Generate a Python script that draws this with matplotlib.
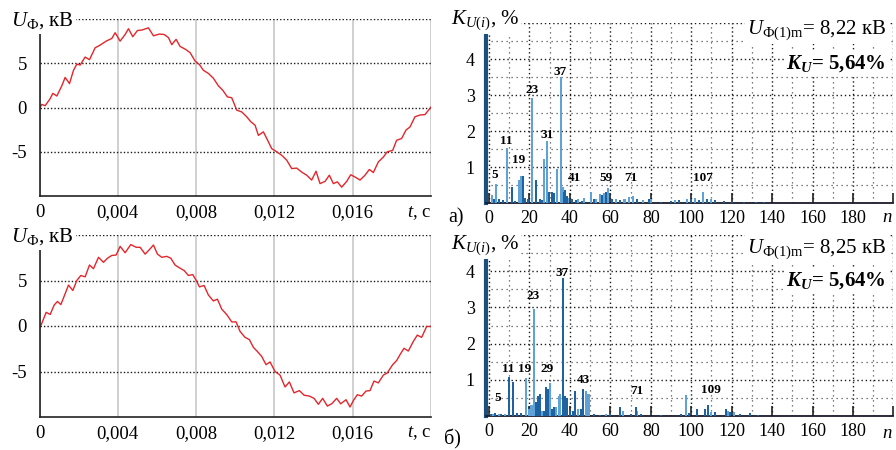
import matplotlib
matplotlib.use("Agg")
import matplotlib.pyplot as plt
import numpy as np

plt.rcParams['font.family'] = ['Liberation Serif', 'DejaVu Serif']
plt.rcParams['mathtext.fontset'] = 'custom'
plt.rcParams['mathtext.rm'] = 'Liberation Serif'
plt.rcParams['mathtext.it'] = 'Liberation Serif:italic'
plt.rcParams['mathtext.bf'] = 'Liberation Serif:bold'
plt.rcParams['mathtext.bfit'] = 'Liberation Serif:bold:italic'
plt.rcParams['axes.unicode_minus'] = False

#==============================================================================
# waveform a) : time in ms, voltage in kV
t_a_ms = [0, 0.119, 0.289, 0.545, 0.681, 0.885, 1.140, 1.311, 1.532, 1.736,
          1.906, 2.077, 2.332, 2.553, 2.843, 3.098, 3.404, 3.693, 3.864, 4.119,
          4.374, 4.545, 4.766, 5.004, 5.225, 5.566, 5.821, 6.127, 6.366, 6.587,
          6.757, 6.978, 7.182, 7.438, 7.693, 7.948, 8.170, 8.374, 8.629, 8.884,
          9.140, 9.361, 9.599, 9.821, 10.076, 10.331, 10.586, 10.791, 11.012, 11.182,
          11.437, 11.608, 11.863, 12.118, 12.374, 12.629, 12.884, 13.139, 13.395, 13.650,
          13.905, 14.127, 14.331, 14.586, 14.807, 15.012, 15.216, 15.437, 15.693, 15.897,
          16.118, 16.373, 16.629, 16.850, 17.054, 17.309, 17.565, 17.769, 18.041, 18.245,
          18.501, 18.722, 18.926, 19.181, 19.437, 19.692, 20.0]
u_a = [-0.1, 0.35, 0.2, 1.0, 1.6, 1.3, 2.45, 3.4, 2.7, 4.2,
       4.9, 4.8, 5.7, 5.4, 6.75, 7.05, 7.5, 7.8, 8.45, 7.5,
       8.25, 8.9, 8.0, 8.7, 8.75, 9.0, 8.1, 8.3, 8.25, 7.9,
       7.1, 7.7, 6.9, 6.6, 6.2, 5.25, 4.85, 4.2, 3.85, 3.3,
       2.45, 1.95, 1.2, 1.1, -0.3, -0.5, -1.05, -1.6, -2.0, -3.15,
       -2.75, -3.5, -4.65, -5.0, -5.4, -5.95, -6.9, -6.85, -7.3, -7.65,
       -8.2, -7.2, -8.6, -8.35, -7.65, -8.6, -8.4, -9.0, -8.35, -7.6,
       -7.85, -8.2, -7.65, -7.0, -7.35, -6.15, -5.6, -5.0, -4.85, -3.7,
       -3.5, -2.55, -2.2, -1.05, -0.85, -0.8, 0.05]

# waveform б)
t_b_ms = [0, 0.119, 0.340, 0.545, 0.749, 0.919, 1.089, 1.311, 1.481, 1.702,
          1.906, 2.110, 2.332, 2.553, 2.757, 3.013, 3.268, 3.472, 3.693, 3.915,
          4.119, 4.374, 4.663, 4.936, 5.140, 5.395, 5.617, 5.821, 6.025, 6.246,
          6.502, 6.706, 6.927, 7.182, 7.387, 7.608, 7.829, 8.034, 8.170, 8.408,
          8.629, 8.884, 9.089, 9.310, 9.565, 9.821, 10.042, 10.246, 10.501, 10.723,
          10.927, 11.131, 11.352, 11.574, 11.778, 12.033, 12.288, 12.544, 12.765, 13.003,
          13.276, 13.514, 13.786, 14.024, 14.246, 14.467, 14.705, 14.927, 15.182, 15.386,
          15.659, 15.863, 16.033, 16.237, 16.458, 16.680, 16.884, 17.088, 17.309, 17.565,
          17.769, 18.041, 18.245, 18.416, 18.620, 18.841, 19.096, 19.301, 19.522, 19.778,
          20.0]
u_b = [-0.25, 0.3, 1.5, 1.27, 2.3, 2.7, 2.35, 3.55, 4.5, 3.9,
       5.0, 5.55, 5.4, 6.7, 6.3, 7.55, 7.0, 7.45, 7.75, 7.8,
       8.75, 8.05, 8.95, 8.65, 8.65, 7.9, 8.4, 8.9, 7.9, 7.55,
       7.65, 7.45, 6.7, 6.35, 6.1, 5.55, 5.65, 4.9, 4.3, 4.45,
       3.4, 2.75, 2.95, 1.85, 1.25, 0.45, 0.45, -0.6, -1.25, -1.5,
       -2.35, -2.8, -3.35, -4.25, -3.95, -5.0, -5.4, -6.7, -6.15, -7.35,
       -7.1, -7.6, -7.7, -7.95, -8.6, -7.95, -8.8, -8.55, -7.95, -8.55,
       -8.1, -8.9, -8.2, -7.55, -7.7, -7.15, -7.1, -6.05, -6.25, -5.4,
       -5.15, -4.25, -3.8, -3.15, -2.45, -2.75, -1.7, -1.0, -1.25, -0.05,
       -0.05]

t_ticks = [0, 0.004, 0.008, 0.012, 0.016, 0.02]
t_labels = ['0', '0,004', '0,008', '0,012', '0,016', '']

#==============================================================================
# spectrum a)
a_light_n = [1.3, 3.3, 9.1, 14.8, 16.0, 21.1, 27.2, 28.8, 33.5, 35.5,
             36.5, 39, 44, 47, 50.5, 53, 55, 57, 59, 63,
             67, 69, 71, 76, 80, 92, 98, 102, 106, 110]
a_light_v = [0.22, 0.53, 1.52, 0.64, 0.76, 2.93, 1.22, 1.72, 0.94, 3.51,
             0.45, 0.15, 0.12, 0.15, 0.3, 0.12, 0.25, 0.28, 0.42, 0.12,
             0.1, 0.18, 0.2, 0.08, 0.12, 0.08, 0.12, 0.15, 0.31, 0.1]
a_dark_n = [2.3, 4.8, 7, 11.2, 13, 17, 17.8, 19.5, 23.4, 25,
            26, 29.6, 31.3, 32.2, 36.9, 37.8, 38.6, 41, 43, 46,
            52, 56, 58, 61, 65, 73, 79, 85, 90, 94,
            100, 104, 108, 112, 116, 120, 126, 132, 136]
a_dark_v = [0.12, 0.11, 0.08, 0.44, 0.05, 0.75, 0.15, 0.1, 0.64, 0.1,
            0.08, 0.3, 0.3, 0.28, 0.3, 0.35, 0.2, 0.1, 0.08, 0.05,
            0.1, 0.22, 0.3, 0.1, 0.08, 0.1, 0.12, 0.04, 0.05, 0.08,
            0.1, 0.08, 0.1, 0.08, 0.05, 0.04, 0.03, 0.03, 0.02]
a_marks = ['5', '11', '19', '23', '31', '37', '41', '59', '71', '107']
a_mark_n = [3.0, 8.3, 14.8, 21.1, 28.5, 35.1, 42.5, 57.7, 70.2, 106]
a_mark_y = [0.78, 1.73, 1.20, 3.14, 1.89, 3.65, 0.69, 0.69, 0.69, 0.69]

# spectrum б)
b_light_n = [2, 5, 8, 18.3, 20, 21, 22.4, 26, 30.2, 33,
             34.5, 35, 44, 48, 49.2, 58, 66.4, 73, 97.3, 110,
             118, 121]
b_light_v = [0.05, 0.06, 0.05, 1.05, 0.2, 0.3, 2.95, 0.15, 0.9, 0.25,
             0.55, 0.6, 0.2, 0.7, 0.6, 0.05, 0.15, 0.15, 0.58, 0.12,
             0.15, 0.1]
b_dark_n = [1, 3, 6, 10, 12, 14, 16, 23.1, 24.4, 25.2,
            27, 28.2, 29.3, 31, 32, 36.6, 37.6, 38.5, 40, 41.3,
            42.5, 45.3, 46.7, 52, 55, 60, 64.8, 70, 72.7, 75,
            85, 95, 99, 103, 106.7, 108.5, 112, 117, 119, 124,
            129, 133]
b_dark_v = [0.05, 0.08, 0.06, 1.09, 0.95, 0.08, 0.08, 0.4, 0.55, 0.6,
            0.15, 0.8, 0.75, 0.2, 0.25, 3.8, 0.55, 0.5, 0.15, 0.15,
            0.7, 0.2, 0.75, 0.05, 0.03, 0.05, 0.25, 0.05, 0.24, 0.05,
            0.03, 0.06, 0.08, 0.2, 0.2, 0.3, 0.1, 0.18, 0.12, 0.05,
            0.08, 0.03]
b_marks = ['5', '11', '19', '23', '29', '37', '43', '71', '109']
b_mark_n = [4.1, 9.6, 17.8, 21.9, 28.8, 35.9, 46.7, 73.0, 109.6]
b_mark_y = [0.49, 1.31, 1.31, 3.31, 1.31, 3.96, 1.0, 0.68, 0.71]

n_ticks = list(range(0, 201, 20))
n_labels = [str(v) for v in n_ticks[:-1]] + ['']

#==============================================================================
W, H = 896, 450
def px(x): return x / W
def py(y): return 1 - y / H

def wave_panel(ax, t_ms, u):
    ax.plot(np.array(t_ms) / 1000, u, color='#e3262b', lw=1.0)
    ax.set_xlim(0, 0.02)
    ax.set_ylim(-10, 10)
    ax.set_xticks(t_ticks)
    ax.set_xticklabels(t_labels)
    ax.set_yticks([-5, 0, 5, 10])
    ax.set_yticklabels(['-5', '0', '5', ''])
    ax.grid(axis='x', color='#c4c4c4', lw=1.1, ls='-')
    ax.grid(axis='y', color='#1a1a1a', lw=1.0, ls=(0, (1, 1.5)))
    ax.set_axisbelow(True)
    for s in ['top', 'right']:
        ax.spines[s].set_visible(False)
    for s in ['left', 'bottom']:
        ax.spines[s].set_linewidth(1.2)
        ax.spines[s].set_color('#222222')
    ax.tick_params(length=0, labelsize=13.5, pad=6)
    ax.tick_params(axis='y', pad=9)

def spec_panel(ax, nl, vl, nd, vd, marks, mn, my):
    ax.bar(nl, vl, width=1.0, color='#5fa3d6', lw=0, zorder=3)
    ax.bar(nd, vd, width=1.0, color='#1f62a0', lw=0, zorder=3)
    ax.set_xlim(-1.5, 200)
    ax.set_ylim(0, 5)
    ax.set_xticks(n_ticks)
    ax.set_xticklabels(n_labels)
    ax.set_xticks(range(10, 200, 20), minor=True)
    ax.set_yticks([0, 1, 2, 3, 4, 5])
    ax.set_yticklabels(['', '1', '2', '3', '4', ''])
    ax.set_yticks(np.arange(0.5, 5, 1), minor=True)
    ax.grid(which='major', color='#1a1a1a', lw=1.0, ls=(0, (1, 2)))
    ax.grid(which='minor', color='#555555', lw=0.9, ls=(0, (1, 3)))
    ax.set_axisbelow(True)
    for s in ['top', 'right']:
        ax.spines[s].set_visible(False)
    ax.spines['left'].set_linewidth(3)
    ax.spines['left'].set_color('#1b4f7c')
    ax.spines['bottom'].set_linewidth(1.3)
    ax.spines['bottom'].set_color('#1a1a2a')
    ax.tick_params(axis='x', which='major', direction='in', length=7,
                   width=1.2, color='#222222', labelsize=13, pad=5)
    ax.tick_params(axis='x', which='minor', length=0)
    ax.tick_params(axis='y', which='both', length=0, labelsize=13, pad=8)
    for m, x, y in zip(marks, mn, my):
        ax.text(x, y, m, ha='center', va='center', fontsize=9.5,
                fontweight='bold', zorder=4)

fig = plt.figure(figsize=(8.96, 4.5), dpi=100)

ax1 = fig.add_axes([px(39.5), py(196), px(431 - 39.5), (196 - 19) / H])
ax2 = fig.add_axes([px(39.5), py(417), px(431 - 39.5), (417 - 235) / H])
ax3 = fig.add_axes([px(486), py(203), px(893.4 - 486), (203 - 23) / H])
ax4 = fig.add_axes([px(486), py(416), px(893.4 - 486), (416 - 235) / H])

wave_panel(ax1, t_a_ms, u_a)
wave_panel(ax2, t_b_ms, u_b)
spec_panel(ax3, a_light_n, a_light_v, a_dark_n, a_dark_v, a_marks, a_mark_n, a_mark_y)
spec_panel(ax4, b_light_n, b_light_v, b_dark_n, b_dark_v, b_marks, b_mark_n, b_mark_y)

box = dict(facecolor='white', edgecolor='none', pad=1.5)

# axis titles
for y in [21, 237]:
    fig.text(px(11), py(y), r'$U_{\mathrm{Ф}}$, кВ', fontsize=15, ha='left',
             va='center', bbox=box)
for y in [20, 245]:
    fig.text(px(451), py(y), r'$K_{U(i)}$, %', fontsize=15, ha='left',
             va='center', bbox=box)
for y in [213, 433]:
    fig.text(px(431), py(y), r'$t$, c', fontsize=13.5, ha='right', va='center')
for y in [217, 433]:
    fig.text(px(893), py(y), r'$n$', fontsize=13.5, ha='right', va='center')

# panel letters
fig.text(px(448), py(218), 'а)', fontsize=14.5, ha='left', va='center')
fig.text(px(444), py(439), 'б)', fontsize=14.5, ha='left', va='center')

# parameters
fig.text(px(886), py(30), r'$U_{\mathrm{Ф(1)m}}$= 8,22 кВ', fontsize=15,
         ha='right', va='center', bbox=box)
fig.text(px(886), py(64), r'$\mathbfit{K_U}$= 5,64%', fontsize=15,
         fontweight='bold', ha='right', va='center', bbox=box)
fig.text(px(886), py(249), r'$U_{\mathrm{Ф(1)m}}$= 8,25 кВ', fontsize=15,
         ha='right', va='center', bbox=box)
fig.text(px(886), py(281), r'$\mathbfit{K_U}$= 5,64%', fontsize=15,
         fontweight='bold', ha='right', va='center', bbox=box)

fig.savefig('out.png', dpi=100)
